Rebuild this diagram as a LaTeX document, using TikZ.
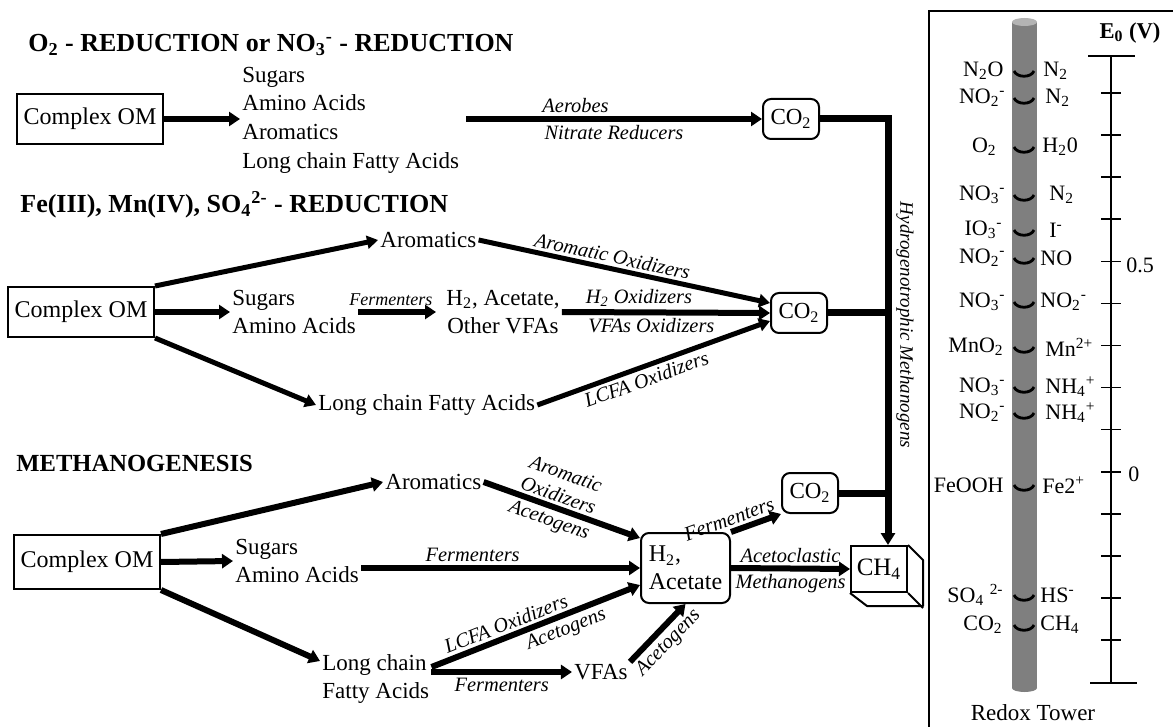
\documentclass[tikz,border=0pt]{standalone}
\usepackage{fontspec}
\setmainfont{Liberation Serif}
\usetikzlibrary{arrows.meta}
\newcommand{\chsub}[1]{\textsubscript{#1}}
\newcommand{\chsup}[1]{\textsuperscript{#1}}
\definecolor{tower}{HTML}{7F7F7F}
\definecolor{towertop}{HTML}{B4B4B4}
\tikzset{
  txt/.style={font=\fontsize{11.5}{14.3}\selectfont, inner sep=1pt, align=left},
  lbl/.style={font=\fontsize{10.2}{12}\selectfont\itshape, inner sep=1.5pt},
  ttl/.style={font=\fontsize{13}{15}\selectfont\bfseries, anchor=west, inner sep=0pt},
  om/.style={draw, line width=1pt, font=\fontsize{12}{14}\selectfont, minimum width=73pt, minimum height=25pt, inner sep=1pt},
  pool/.style={draw, line width=1pt, rounded corners=4pt, font=\fontsize{11.5}{14}\selectfont, minimum width=28pt, minimum height=20pt, inner sep=1pt},
  arr/.style={line width=3pt, -{Triangle[length=5.5pt,width=7pt]}},
  thinarr/.style={line width=2.5pt, -{Triangle[length=5.5pt,width=6.5pt]}},
  bar/.style={line width=3.5pt, line join=miter},
  redox/.style={font=\fontsize{11}{13}\selectfont, inner sep=1pt},
  axis/.style={line width=0.8pt},
}
\begin{document}
\begin{tikzpicture}[x=0.5pt,y=-0.5pt]
\useasboundingbox (0,0) rectangle (1173,727);
% O2 / NO3- reduction
\node[ttl] (t1) at (28,45) {O\chsub{2} - REDUCTION or NO\chsub{3}\chsup{-} - REDUCTION};
\node[om] (cxA) at (90,119) {Complex OM};
\node[txt, anchor=west] (lstA) at (240,120) {Sugars\\Amino Acids\\Aromatics\\Long chain Fatty Acids};
\coordinate (sA) at (466,119);
\node[pool] (co2A) at (791,119) {CO\chsub{2}};
\draw[arr] (cxA.east) -- (cxA.east -| lstA.west);
\draw[arr] (sA) -- node[lbl, above, pos=0.37] {Aerobes} node[lbl, below] {Nitrate Reducers} (co2A.west);
% Fe(III), Mn(IV), SO4 reduction
\node[ttl] (t2) at (20,205) {Fe(III), Mn(IV), SO\chsub{4}\chsup{2-} - REDUCTION};
\node[om] (cxB) at (81,312) {Complex OM};
\node[txt, anchor=west] (aroB) at (378,240) {Aromatics};
\node[txt, anchor=west] (sugB) at (230,312) {Sugars\\Amino Acids};
\node[txt, anchor=west] (lcfB) at (316,405) {Long chain Fatty Acids};
\node[txt, align=center] (h2B) at (503,312) {H\chsub{2}, Acetate,\\Other VFAs};
\node[pool] (co2B) at (799,313) {CO\chsub{2}};
\draw[thinarr] (cxB.north east) -- (aroB.west);
\draw[arr] (cxB.east) -- (sugB.west);
\draw[thinarr] (cxB.south east) -- (lcfB.west);
\draw[arr] (sugB.east) -- node[lbl, above, font=\fontsize{9}{10}\selectfont\itshape, pos=0.42] {Fermenters} ([xshift=-4pt]h2B.west);
\draw[thinarr] (aroB.east) -- node[lbl, above, sloped, pos=0.45] {Aromatic Oxidizers} ([yshift=5pt]co2B.west);
\draw[arr] (h2B.east) -- node[lbl, above, pos=0.37] {H\chsub{2} Oxidizers} node[lbl, below, pos=0.43] {VFAs Oxidizers} (co2B.west);
\draw[thinarr] (lcfB.east) -- node[lbl, below, sloped, pos=0.45] {LCFA Oxidizers} ([yshift=-4pt]co2B.west);
% methanogenesis
\node[ttl, font=\fontsize{12.3}{14}\selectfont\bfseries] (t3) at (16,463) {METHANOGENESIS};
\node[om, minimum height=27pt] (cxC) at (87,562) {Complex OM};
\node[txt, anchor=west] (aroC) at (383,482) {Aromatics};
\node[txt, anchor=west] (sugC) at (233,561) {Sugars\\Amino Acids};
\node[txt, anchor=west] (lcfC) at (320,679) {Long chain\\Fatty Acids};
\node[txt] (vfa) at (601,672) {VFAs};
\node[pool, font=\fontsize{12}{14}\selectfont, minimum width=44.5pt, minimum height=35pt, align=left] (h2C) at (685.5,568) {H\chsub{2},\\Acetate};
\node[pool] (co2C) at (810,493) {CO\chsub{2}};
\node[draw, line width=1pt, font=\fontsize{12.5}{14}\selectfont, minimum width=28pt, minimum height=23pt, inner sep=1pt] (ch4) at (879,569) {CH\chsub{4}};
\draw[line width=1pt, line join=round] (ch4.north east) -- ++(15,15) -- ++(0,46) -- ++(-56,0) -- (ch4.south west);
\draw[line width=1pt] (ch4.south east) -- ++(15,15);
\draw[arr] (cxC.north east) -- (aroC.west);
\draw[arr] (cxC.east) -- (sugC.west);
\draw[arr] (cxC.south east) -- ([yshift=9pt]lcfC.west);
\draw[arr] (sugC.east |- h2C.west) -- node[lbl, above, pos=0.4] {Fermenters} (h2C.west);
\draw[arr] (aroC.east) -- node[lbl, above, sloped, pos=0.45, align=center, font=\fontsize{10.2}{11.5}\selectfont\itshape] {Aromatic\\Oxidizers} node[lbl, below, sloped, pos=0.45] {Acetogens} ([yshift=-3pt]h2C.north west);
\draw[arr] ([yshift=6pt]lcfC.east) -- node[lbl, above, sloped, pos=0.38] {LCFA Oxidizers} node[lbl, below, sloped, pos=0.62] {Acetogens} ([yshift=-8.5pt]h2C.west);
\draw[arr] (lcfC.east |- vfa.west) -- node[lbl, below] {Fermenters} (vfa.west);
\draw[arr] (vfa.north east) -- node[lbl, below, sloped] {Acetogens} (h2C.south);
\draw[arr] (h2C.north east) -- node[lbl, above, sloped, pos=0.05] {Fermenters} (co2C.south west);
\draw[arr] (h2C.east) -- node[lbl, above] {Acetoclastic} node[lbl, below] {Methanogens} (ch4.west);
% hydrogenotrophic branch
\coordinate (hm) at (888,119);
\draw[bar, -{Triangle[length=6pt,width=7pt]}] (co2A.east) -- (hm) -- (hm |- ch4.north);
\draw[bar] (co2B.east) -- (co2B.east -| hm);
\draw[bar] (co2C.east) -- (co2C.east -| hm);
\node[lbl, rotate=-90, font=\fontsize{9.5}{11}\selectfont\itshape] (hmL) at (905,325) {Hydrogenotrophic Methanogens};
% redox tower
\draw[line width=1pt] (929,727) -- (929,11) -- (1173,11);
\fill[tower] (1012,22) rectangle (1037,688);
\fill[tower] (1024.5,688) ellipse [x radius=6.25pt, y radius=2pt];
\fill[towertop] (1024.5,22) ellipse [x radius=6.25pt, y radius=2pt];
\foreach \yy in {74,101,150,198,233,261,305,350,390,416,488,598,628}
  \draw[line width=1.4pt] (1014,\yy-3) .. controls (1017,\yy+4) and (1031,\yy+4) .. (1034,\yy-3);
\foreach \yy/\xl/\lt/\xr/\rt [count=\i] in {
  71/1006/N\chsub{2}O/1041/N\chsub{2},
  98/1008/NO\chsub{2}\chsup{-}/1043/N\chsub{2},
  147/999/O\chsub{2}/1040/H\chsub{2}0,
  195/1008/NO\chsub{3}\chsup{-}/1047/N\chsub{2},
  230/1005/IO\chsub{3}\chsup{-}/1047/I\chsup{-},
  258/1008/NO\chsub{2}\chsup{-}/1038/NO,
  302/1008/NO\chsub{3}\chsup{-}/1038/NO\chsub{2}\chsup{-},
  347/1006/MnO\chsub{2}/1043/Mn\chsup{2+},
  387/1008/NO\chsub{3}\chsup{-}/1043/NH\chsub{4}\chsup{+},
  413/1008/NO\chsub{2}\chsup{-}/1043/NH\chsub{4}\chsup{+},
  485/1006/FeOOH/1040/Fe2\chsup{+},
  595/1006/SO\chsub{4} \chsup{2-}/1038/HS\chsup{-},
  625/1005/CO\chsub{2}/1038/CH\chsub{4}}
{
  \node[redox, anchor=east] (ox\i) at (\xl,\yy) {\lt};
  \node[redox, anchor=west] (rd\i) at (\xr,\yy) {\rt};
}
\node[font=\fontsize{11.3}{13}\selectfont\bfseries, inner sep=1pt] (e0) at (1130,33) {E\chsub{0} (V)};
\draw[axis] (1088,56) -- (1135,56);
\draw[axis] (1111,56) -- (1111,683);
\draw[axis] (1090,683) -- (1137,683);
\foreach \k in {0,...,13}
  \draw[axis] (1101,93+\k*42.08) -- (1121,93+\k*42.08);
\node[redox, anchor=west] (v05) at (1124,265) {0.5};
\node[redox, anchor=west] (v0) at (1126,474) {0};
\node[font=\fontsize{11.5}{13}\selectfont, inner sep=1pt] (rt) at (1033,713) {Redox Tower};
\end{tikzpicture}
\end{document}
